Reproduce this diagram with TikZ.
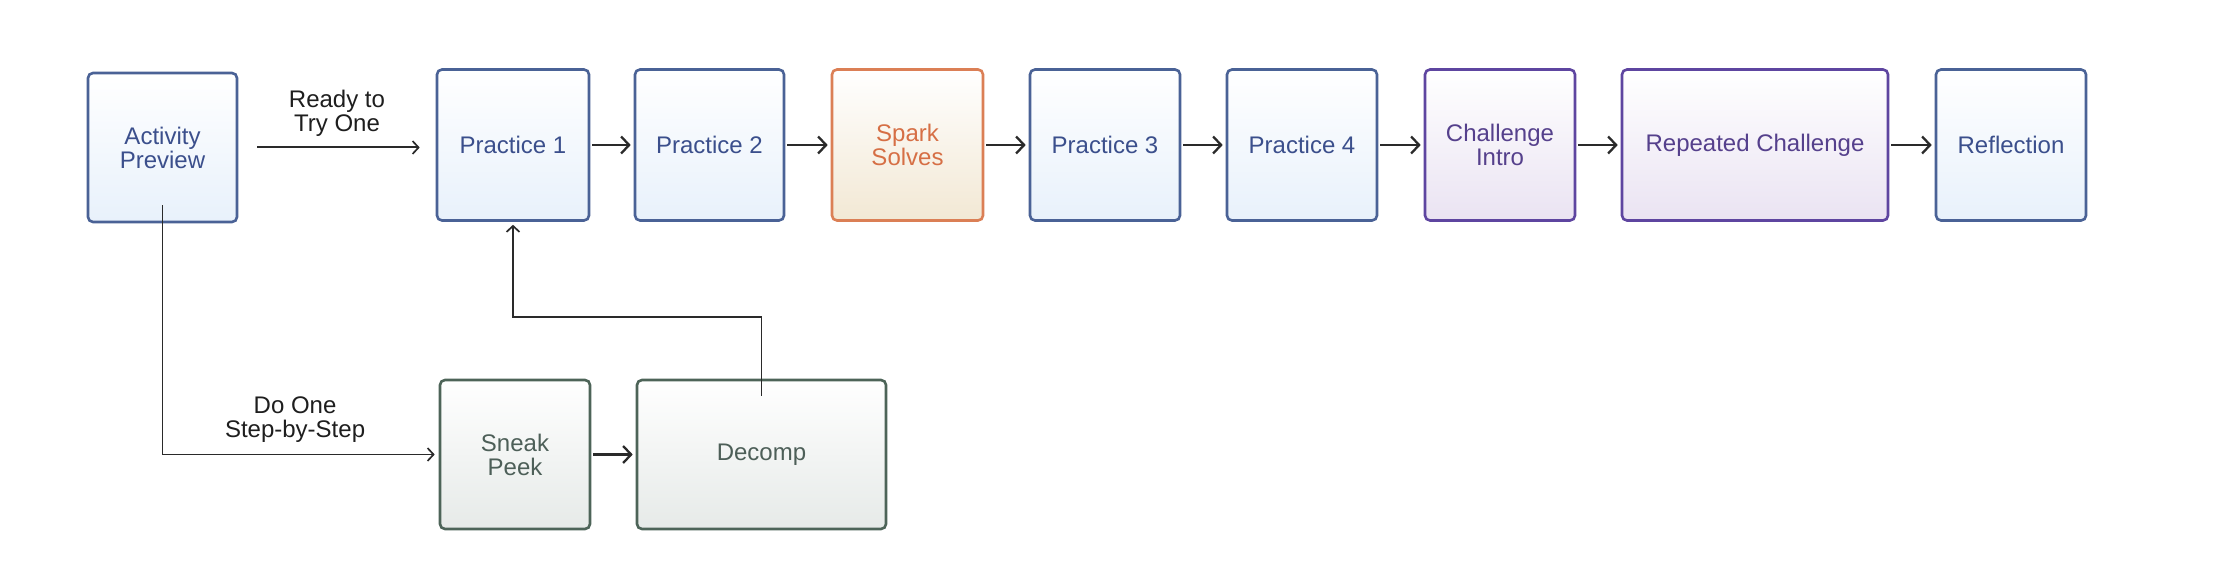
\documentclass[tikz,border=0pt]{standalone}
\usepackage{fontspec}
\setmainfont{Liberation Sans}
\usetikzlibrary{arrows.meta,calc}
\definecolor{bluedraw}{HTML}{4A6296}
\definecolor{bluefill}{HTML}{E8F1FB}
\definecolor{bluetext}{HTML}{3B4F8C}
\definecolor{orgdraw}{HTML}{DB7F55}
\definecolor{orgfill}{HTML}{F2E8D4}
\definecolor{orgtext}{HTML}{D66F45}
\definecolor{purdraw}{HTML}{5E45A0}
\definecolor{purfill}{HTML}{EAE3F2}
\definecolor{purtext}{HTML}{55408C}
\definecolor{grndraw}{HTML}{4D6458}
\definecolor{grnfill}{HTML}{E6EAE8}
\definecolor{grntext}{HTML}{4D5F58}
\definecolor{labtext}{HTML}{1E1E1E}
\definecolor{linecol}{HTML}{2A2A2A}
\tikzset{
  stagebox/.style={rectangle, rounded corners=5pt, line width=2.6pt,
    inner sep=0pt, align=center, font=\fontsize{24}{24}\selectfont},
  bluebox/.style={stagebox, draw=bluedraw, top color=white, bottom color=bluefill, text=bluetext},
  orgbox/.style={stagebox, draw=orgdraw, top color=white, bottom color=orgfill, text=orgtext},
  purbox/.style={stagebox, draw=purdraw, top color=white, bottom color=purfill, text=purtext},
  grnbox/.style={stagebox, draw=grndraw, top color=white, bottom color=grnfill, text=grntext},
  mainarrow/.style={line width=2.3pt, draw=linecol, -{Straight Barb[length=8pt,width=17pt,line width=2.3pt]},
    shorten <=2pt, shorten >=3pt},
  thinarrow/.style={line width=1.7pt, draw=linecol, -{Straight Barb[length=6pt,width=13pt,line width=1.7pt]}},
  edgelabel/.style={font=\fontsize{24}{24}\selectfont, text=labtext, align=center, inner sep=0pt}
}
\begin{document}
\begin{tikzpicture}[x=1pt,y=-1pt]
\useasboundingbox[fill=white] (0,0) rectangle (2224,572);
% top row
\node[bluebox, minimum width=149pt, minimum height=149pt] (ap) at (162.5,147.5) {Activity\\Preview};
\node[bluebox, minimum width=152pt, minimum height=151pt] (p1) at (513,145) {Practice 1};
\node[bluebox, minimum width=149pt, minimum height=151pt] (p2) at (709.5,145) {Practice 2};
\node[orgbox, minimum width=151pt, minimum height=151pt] (ss) at (907.5,145) {Spark\\Solves};
\node[bluebox, minimum width=150pt, minimum height=151pt] (p3) at (1105,145) {Practice 3};
\node[bluebox, minimum width=150pt, minimum height=151pt] (p4) at (1302,145) {Practice 4};
\node[purbox, minimum width=150pt, minimum height=151pt] (ci) at (1500,145) {Challenge\\Intro};
\node[purbox, minimum width=266pt, minimum height=151pt] (rc) at (1755,145) {Repeated Challenge};
\node[bluebox, minimum width=150pt, minimum height=151pt] (rf) at (2011,145) {Reflection};
% bottom row
\node[grnbox, minimum width=150pt, minimum height=149pt] (sp) at (515,454.5) {Sneak\\Peek};
\node[grnbox, minimum width=249pt, minimum height=149pt] (dc) at (761.5,454.5) {Decomp};
% main row arrows
\draw[mainarrow] (p1.east) -- (p2.west);
\draw[mainarrow] (p2.east) -- (ss.west);
\draw[mainarrow] (ss.east) -- (p3.west);
\draw[mainarrow] (p3.east) -- (p4.west);
\draw[mainarrow] (p4.east) -- (ci.west);
\draw[mainarrow] (ci.east) -- (rc.west);
\draw[mainarrow] (rc.east) -- (rf.west);
\draw[mainarrow] (sp.east) -- (dc.west);
% Ready to Try One
\draw[thinarrow, line width=2pt, shorten <=19pt, shorten >=16pt] (ap.east) -- (ap.east -| p1.west)
  node[edgelabel, midway, yshift=34pt] {Ready to\\Try One};
% Do One Step-by-Step
\draw[thinarrow, shorten >=4pt] ([yshift=18pt]ap.south) |- (sp.west)
  node[edgelabel, pos=0.74, yshift=35pt] {Do One\\Step-by-Step};
% Decomp back to Practice 1
\coordinate (turn) at (0,317);
\draw[thinarrow, shorten >=3pt] ([yshift=-17pt]dc.north) |- (turn -| p1.south) -- (p1.south);
\end{tikzpicture}
\end{document}
